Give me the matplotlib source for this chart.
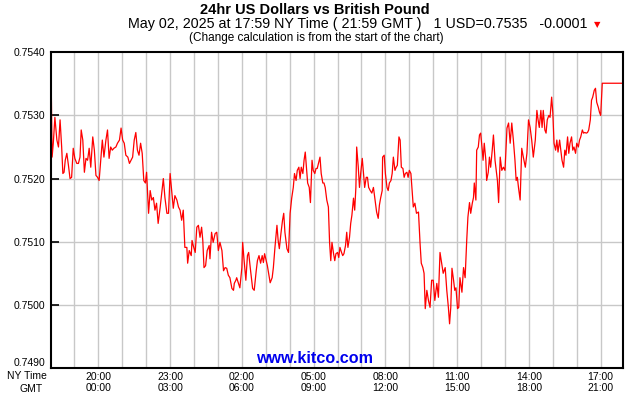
import matplotlib
matplotlib.use("Agg")
import matplotlib.pyplot as plt

# chart data: minutes since 18:00 NY time (May 1) and USD->GBP rate
minutes = [
    0, 2, 4, 7, 11, 16, 20, 24, 28, 31, 34, 37, 41, 45, 49, 53, 57, 61, 66, 70,
    74, 77, 81, 85, 89, 93, 97, 101, 106, 110, 114, 118, 122, 127, 130, 134, 139,
    143, 147, 151, 155, 159, 164, 168, 173, 177, 181, 185, 189, 194, 198, 202,
    206, 210, 214, 218, 222, 226, 230, 234, 238, 241, 246, 250, 254, 258, 262,
    266, 270, 275, 279, 283, 287, 292, 296, 300, 304, 308, 312, 317, 321, 325,
    329, 333, 337, 342, 344, 348, 353, 355, 358, 363, 367, 371, 375, 379, 382,
    385, 389, 393, 398, 400, 404, 408, 413, 417, 421, 425, 430, 434, 438, 442,
    446, 450, 455, 459, 461, 465, 467, 471, 475, 480, 482, 485, 490, 494, 497,
    501, 504, 507, 511, 516, 519, 523, 527, 531, 534, 537, 541, 544, 547, 551,
    556, 559, 563, 568, 571, 574, 578, 582, 585, 588, 593, 597, 601, 605, 609,
    612, 616, 619, 623, 626, 629, 633, 636, 639, 642, 645, 649, 652, 656, 659,
    663, 666, 669, 673, 676, 679, 683, 686, 689, 693, 697, 700, 703, 706, 710,
    713, 716, 720, 723, 726, 730, 733, 736, 740, 743, 746, 750, 753, 756, 760,
    763, 766, 768, 772, 775, 778, 782, 785, 788, 792, 795, 798, 802, 806, 810,
    814, 818, 822, 825, 828, 832, 833, 837, 840, 844, 847, 850, 854, 857, 860,
    864, 867, 870, 874, 877, 880, 884, 887, 890, 894, 897, 900, 904, 907, 910,
    914, 918, 923, 927, 930, 934, 937, 940, 944, 948, 952, 956, 960, 964, 969,
    973, 977, 981, 985, 990, 994, 998, 1001, 1004, 1007, 1011, 1014, 1017, 1021,
    1024, 1027, 1032, 1036, 1040, 1044, 1047, 1051, 1054, 1058, 1061, 1063, 1067,
    1069, 1073, 1076, 1079, 1083, 1085, 1088, 1092, 1094, 1098, 1101, 1104, 1108,
    1111, 1115, 1118, 1121, 1124, 1128, 1132, 1136, 1140, 1145, 1149, 1153, 1157,
    1161, 1165, 1168, 1171, 1174, 1178, 1182, 1186, 1191, 1195, 1199, 1203, 1207,
    1211, 1216, 1220, 1223, 1226, 1230, 1233, 1236, 1240, 1243, 1246, 1250, 1253,
    1257, 1260, 1263, 1267, 1270, 1273, 1277, 1280, 1283, 1287, 1290, 1293, 1297,
    1300, 1303, 1307, 1310, 1313, 1317, 1320, 1324, 1327, 1330, 1334, 1337, 1340,
    1344, 1347, 1350, 1354, 1357, 1360, 1364, 1367, 1370, 1374, 1377, 1380, 1384,
    1436,
]
rate = [
    0.75261, 0.75340, 0.75234, 0.75256, 0.75297, 0.75261, 0.75250, 0.75293, 0.75250,
    0.75208, 0.75210, 0.75229, 0.75240, 0.75221, 0.75200, 0.75202, 0.75248, 0.75232,
    0.75224, 0.75224, 0.75234, 0.75277, 0.75261, 0.75210, 0.75232, 0.75229, 0.75248,
    0.75218, 0.75266, 0.75245, 0.75205, 0.75202, 0.75197, 0.75237, 0.75261, 0.75234,
    0.75261, 0.75277, 0.75232, 0.75250, 0.75245, 0.75248, 0.75250, 0.75256, 0.75261,
    0.75280, 0.75261, 0.75256, 0.75237, 0.75234, 0.75224, 0.75229, 0.75234, 0.75261,
    0.75273, 0.75245, 0.75237, 0.75256, 0.75240, 0.75197, 0.75193, 0.75210, 0.75145,
    0.75181, 0.75166, 0.75170, 0.75150, 0.75161, 0.75129, 0.75154, 0.75177, 0.75200,
    0.75170, 0.75145, 0.75145, 0.75208, 0.75181, 0.75153, 0.75173, 0.75166, 0.75155,
    0.75150, 0.75134, 0.75150, 0.75091, 0.75091, 0.75066, 0.75086, 0.75078, 0.75102,
    0.75094, 0.75083, 0.75123, 0.75126, 0.75107, 0.75123, 0.75102, 0.75059, 0.75062,
    0.75086, 0.75094, 0.75073, 0.75115, 0.75099, 0.75113, 0.75115, 0.75086, 0.75099,
    0.75086, 0.75054, 0.75059, 0.75058, 0.75047, 0.75043, 0.75026, 0.75023, 0.75034,
    0.75039, 0.75043, 0.75035, 0.75027, 0.75059, 0.75099, 0.75075, 0.75039, 0.75078,
    0.75083, 0.75059, 0.75043, 0.75026, 0.75023, 0.75054, 0.75070, 0.75078, 0.75066,
    0.75078, 0.75067, 0.75081, 0.75070, 0.75062, 0.75050, 0.75035, 0.75043, 0.75059,
    0.75091, 0.75126, 0.75102, 0.75089, 0.75113, 0.75134, 0.75145, 0.75115, 0.75089,
    0.75083, 0.75145, 0.75169, 0.75186, 0.75208, 0.75197, 0.75213, 0.75218, 0.75200,
    0.75218, 0.75208, 0.75229, 0.75242, 0.75218, 0.75193, 0.75186, 0.75162, 0.75229,
    0.75213, 0.75208, 0.75216, 0.75216, 0.75226, 0.75234, 0.75208, 0.75193, 0.75193,
    0.75186, 0.75166, 0.75155, 0.75099, 0.75070, 0.75099, 0.75081, 0.75070, 0.75081,
    0.75083, 0.75075, 0.75091, 0.75083, 0.75078, 0.75081, 0.75094, 0.75115, 0.75091,
    0.75107, 0.75129, 0.75142, 0.75169, 0.75150, 0.75186, 0.75250, 0.75218, 0.75186,
    0.75208, 0.75232, 0.75208, 0.75186, 0.75202, 0.75202, 0.75186, 0.75181, 0.75177,
    0.75186, 0.75166, 0.75147, 0.75137, 0.75158, 0.75169, 0.75181, 0.75234, 0.75237,
    0.75208, 0.75186, 0.75181, 0.75193, 0.75197, 0.75208, 0.75234, 0.75213, 0.75218,
    0.75221, 0.75266, 0.75261, 0.75218, 0.75216, 0.75202, 0.75208, 0.75210, 0.75202,
    0.75213, 0.75208, 0.75181, 0.75155, 0.75161, 0.75145, 0.75147, 0.75097, 0.75066,
    0.75059, 0.75050, 0.74994, 0.75023, 0.75007, 0.74996, 0.75039, 0.75039, 0.75007,
    0.75034, 0.75012, 0.75083, 0.75066, 0.75050, 0.75059, 0.75023, 0.74996, 0.74970,
    0.74996, 0.75058, 0.75039, 0.75023, 0.75027, 0.74994, 0.74996, 0.75043, 0.75020,
    0.75059, 0.75043, 0.75102, 0.75139, 0.75162, 0.75145, 0.75161, 0.75170, 0.75193,
    0.75166, 0.75245, 0.75250, 0.75269, 0.75272, 0.75245, 0.75229, 0.75256, 0.75229,
    0.75197, 0.75210, 0.75234, 0.75218, 0.75245, 0.75269, 0.75229, 0.75213, 0.75197,
    0.75162, 0.75234, 0.75213, 0.75218, 0.75213, 0.75280, 0.75288, 0.75256, 0.75288,
    0.75261, 0.75229, 0.75197, 0.75202, 0.75185, 0.75166, 0.75248, 0.75234, 0.75218,
    0.75240, 0.75293, 0.75281, 0.75261, 0.75234, 0.75261, 0.75308, 0.75293, 0.75281,
    0.75308, 0.75281, 0.75308, 0.75277, 0.75272, 0.75293, 0.75300, 0.75297, 0.75329,
    0.75304, 0.75256, 0.75245, 0.75261, 0.75242, 0.75261, 0.75245, 0.75229, 0.75218,
    0.75245, 0.75237, 0.75266, 0.75240, 0.75256, 0.75266, 0.75245, 0.75250, 0.75240,
    0.75256, 0.75250, 0.75261, 0.75266, 0.75277, 0.75272, 0.75273, 0.75272, 0.75273,
    0.75277, 0.75293, 0.75324, 0.75329, 0.75340, 0.75343, 0.75321, 0.75313, 0.75305,
    0.75300, 0.75351, 0.75351,
]

y_ticks = [0.7490, 0.7500, 0.7510, 0.7520, 0.7530, 0.7540]
ny_hours = [20, 23, 2, 5, 8, 11, 14, 17]
gmt_offset = 4

title = "24hr US Dollars vs British Pound"
sub1 = "May 02, 2025 at 17:59 NY Time ( 21:59 GMT )   1 USD=0.7535   -0.0001"
sub2 = "(Change calculation is from the start of the chart)"

plt.rcParams["font.family"] = ["Liberation Sans", "DejaVu Sans"]

W, H = 630, 400
fig = plt.figure(figsize=(W / 100, H / 100), dpi=100)
fig.patch.set_facecolor("white")

# axes box in pixels: left 50.5, right 623, top 52.3, bottom 368
ax = fig.add_axes([50.5 / W, 1 - 368 / H, (623 - 50.5) / W, (368 - 52.3) / H])

ax.plot(minutes, rate, color="#ff0000", lw=0.9, zorder=3)

ax.set_xlim(0, 1436)
ax.set_ylim(0.7490, 0.7540)

# hourly vertical grid, horizontal grid at every tick
for m in range(60, 1436, 60):
    ax.axvline(m, color="#c8c8c8", lw=1.0, zorder=1)
for v in y_ticks[1:-1]:
    ax.axhline(v, color="#c8c8c8", lw=1.0, zorder=1)

ax.set_yticks(y_ticks)
ax.set_yticklabels([f"{v:.4f}" for v in y_ticks])
ax.tick_params(axis="y", direction="in", length=6, width=1.2, color="black",
               labelsize=7.5, pad=4)
for lab in ax.get_yticklabels():
    if lab.get_text() == "0.7490":
        lab.set_verticalalignment("bottom")

xt = [((h - 18) % 24) * 60 for h in ny_hours]
xl = [f"{h:02d}:00\n{(h + gmt_offset) % 24:02d}:00" for h in ny_hours]
ax.set_xticks(xt)
ax.set_xticklabels(xl, linespacing=1.15)
ax.tick_params(axis="x", length=0, labelsize=7.5, pad=3)

for s in ax.spines.values():
    s.set_linewidth(1.5)
    s.set_color("black")
    s.set_zorder(4)

fig.text(47 / W, 1 - 376 / H, "NY Time", ha="right", va="center", fontsize=7.5)
fig.text(43 / W, 1 - 388.5 / H, "GMT", ha="right", va="center", fontsize=7.5)

fig.text(315 / W, 1 - 10 / H, title, ha="center", va="center",
         fontsize=10.5, fontweight="bold")
fig.text(588 / W, 1 - 24 / H, sub1, ha="right", va="center", fontsize=10.3)
fig.text(597 / W, 1 - 24.5 / H, "\u25bc", ha="center", va="center",
         fontsize=6, color="#ff0000", family="DejaVu Sans")
fig.text(316 / W, 1 - 38 / H, sub2, ha="center", va="center", fontsize=8.5)

fig.text(315 / W, 1 - 366 / H, "www.kitco.com", ha="center", va="bottom",
         fontsize=11.6, fontweight="bold", color="#0000ee", zorder=5)

fig.savefig("out.png", dpi=100)
